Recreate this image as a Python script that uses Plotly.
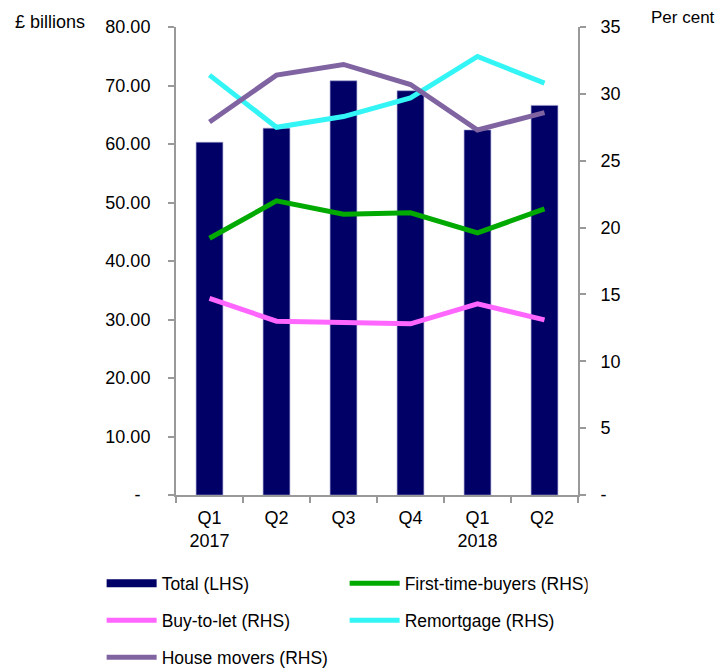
import plotly.graph_objects as go

# Dados
quarters = ['Q1<br>2017', 'Q2', 'Q3', 'Q4', 'Q1<br>2018', 'Q2 ']
total = [60.3, 62.7, 70.8, 69.1, 62.4, 66.6]
first_time_buyers = [19.2, 22.0, 21.0, 21.1, 19.6, 21.4]
buy_to_let = [14.7, 13.0, 12.9, 12.8, 14.3, 13.1]
remortgage = [31.4, 27.5, 28.3, 29.7, 32.8, 30.8]
house_movers = [27.9, 31.4, 32.2, 30.7, 27.3, 28.6]

left_ticks = [0, 10, 20, 30, 40, 50, 60, 70, 80]
left_ticktext = ['-\u00a0\u00a0', '10.00', '20.00', '30.00', '40.00', '50.00', '60.00', '70.00', '80.00']
right_ticks = [0, 5, 10, 15, 20, 25, 30, 35]
right_ticktext = ['-', '5', '10', '15', '20', '25', '30', '35']

COLORS = {
    'total': '#000066',
    'ftb': '#00AA00',
    'btl': '#FF66FF',
    'remortgage': '#33F5F5',
    'movers': '#8064A2',
    'axis': '#999999',
    'text': '#000000',
}

FONT = 'Liberation Sans, Arial, sans-serif'

fig = go.Figure()

fig.add_trace(go.Bar(
    x=quarters, y=total, name='Total (LHS)',
    marker=dict(color=COLORS['total'], line=dict(color='#9a9ad0', width=0.6)),
    width=0.4, showlegend=False, yaxis='y'
))

# entrada de legenda em formato de retângulo largo
fig.add_trace(go.Scatter(
    x=[None], y=[None], mode='lines', name='Total (LHS)',
    line=dict(color=COLORS['total'], width=8), legend='legend'
))

lines = [
    ('First-time-buyers (RHS)', first_time_buyers, COLORS['ftb'], 'legend'),
    ('Buy-to-let (RHS)', buy_to_let, COLORS['btl'], 'legend2'),
    ('Remortgage (RHS)', remortgage, COLORS['remortgage'], 'legend2'),
    ('House movers (RHS)', house_movers, COLORS['movers'], 'legend3'),
]
for name, values, color, leg in lines:
    fig.add_trace(go.Scatter(
        x=quarters, y=values, name=name, mode='lines',
        line=dict(color=color, width=5), yaxis='y2', legend=leg
    ))

legend_common = dict(
    orientation='h', xanchor='left', yanchor='middle',
    font=dict(family=FONT, size=17.5, color=COLORS['text']),
    entrywidth=178, itemwidth=50, bgcolor='rgba(0,0,0,0)'
)

# a página tem 8px de margem no body, então a figura é 8px menor
fig.update_layout(
    width=716, height=661,
    margin=dict(l=168, r=146, t=19, b=174, autoexpand=False),
    paper_bgcolor='white', plot_bgcolor='white',
    font=dict(family=FONT, size=18, color=COLORS['text']),
    xaxis=dict(
        type='category', showline=True, linecolor=COLORS['axis'], linewidth=2,
        ticks='outside', tickson='boundaries', ticklen=6, tickcolor=COLORS['axis'],
        tickwidth=2, showgrid=False, ticklabelstandoff=5
    ),
    yaxis=dict(
        range=[0, 80], tickvals=left_ticks, ticktext=left_ticktext,
        showline=True, linecolor=COLORS['axis'], linewidth=2,
        ticks='outside', ticklen=6, tickcolor=COLORS['axis'], tickwidth=2,
        showgrid=False, zeroline=False, ticklabelstandoff=14
    ),
    yaxis2=dict(
        range=[0, 35], tickvals=right_ticks, ticktext=right_ticktext,
        overlaying='y', side='right',
        showline=True, linecolor=COLORS['axis'], linewidth=2,
        ticks='outside', ticklen=6, tickcolor=COLORS['axis'], tickwidth=2,
        showgrid=False, zeroline=False, ticklabelstandoff=11
    ),
    legend=dict(x=-0.185, y=-0.189, **legend_common),
    legend2=dict(x=-0.185, y=-0.268, **legend_common),
    legend3=dict(x=-0.185, y=-0.347, **legend_common),
    annotations=[
        dict(text='£ billions', xref='paper', yref='paper', x=-0.405, y=1.0107,
             xanchor='left', yanchor='middle', showarrow=False, font=dict(size=18)),
        dict(text='Per cent', xref='paper', yref='paper', x=1.176, y=1.021,
             xanchor='left', yanchor='middle', showarrow=False, font=dict(size=17)),
    ],
)

fig.write_html('out.html', config={'displayModeBar': False})
